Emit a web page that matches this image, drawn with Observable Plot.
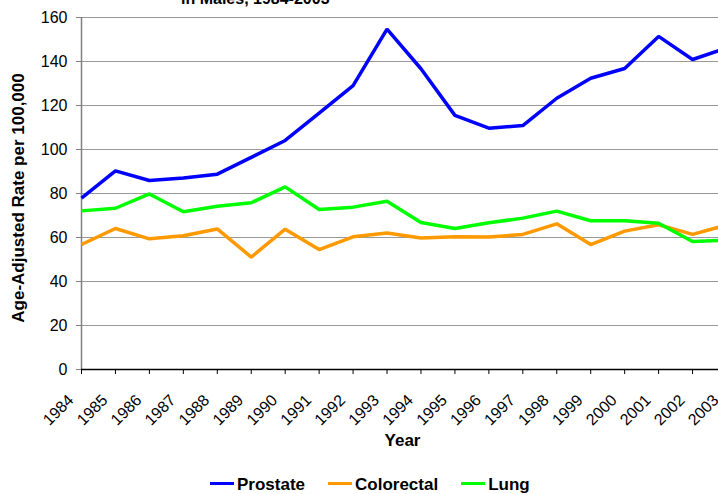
<!DOCTYPE html>
<html>
<head>
<meta charset="utf-8">
<script src="https://cdn.jsdelivr.net/npm/d3@7"></script>
<script src="https://cdn.jsdelivr.net/npm/@observablehq/plot@0.6"></script>
<style>
  body { margin: 0; background: #fff; font-family: "Liberation Sans", Arial, sans-serif; width: 718px; height: 494px; overflow: hidden; position: relative; }
  #chart { position: absolute; left: 0; top: 0; }
  #title { position: absolute; left: 181px; top: -10px; font-weight: bold; font-size: 16px; line-height: 18px; white-space: nowrap; color: #000; z-index: 2; }
  #legend { position: absolute; left: 210px; top: 475px; display: flex; font-weight: bold; font-size: 17px; line-height: 20px; color: #000; }
  .item { display: flex; align-items: center; margin-right: 23px; }
  .sw { width: 24px; height: 3px; margin-right: 3px; margin-top: -3px; }
</style>
</head>
<body>
<div id="chart"></div>
<div id="title">in Males, 1984-2003</div>
<div id="legend"></div>
<script>
const years = [1984, 1985, 1986, 1987, 1988, 1989, 1990, 1991, 1992, 1993, 1994, 1995, 1996, 1997, 1998, 1999, 2000, 2001, 2002, 2003];
const prostate = [77.9, 90.3, 85.9, 87.0, 88.8, 96.4, 104.1, 116.5, 129.0, 154.7, 136.7, 115.5, 109.7, 110.9, 123.3, 132.4, 136.8, 151.4, 140.9, 146.2];
const colorectal = [56.8, 64.1, 59.4, 60.8, 63.9, 51.1, 63.8, 54.5, 60.3, 62.0, 59.8, 60.3, 60.2, 61.4, 66.2, 56.8, 62.9, 65.8, 61.4, 65.7];
const lung = [72.1, 73.3, 79.8, 71.7, 74.2, 75.8, 83.0, 72.7, 73.8, 76.5, 66.8, 64.1, 66.7, 68.8, 72.0, 67.6, 67.6, 66.5, 58.2, 58.8];
const seriesNames = ["Prostate", "Colorectal", "Lung"];
const seriesColors = ["#0000FF", "#FF9900", "#00FF00"];
const yTicks = [0, 20, 40, 60, 80, 100, 120, 140, 160];
const yLabel = "Age-Adjusted Rate per 100,000";
const xLabel = "Year";

const seriesValues = [prostate, colorectal, lung];
const rows = seriesNames.flatMap((name, i) =>
  years.map((year, j) => ({ series: name, year, value: seriesValues[i][j] }))
);

const font = '"Liberation Sans", Arial, sans-serif';

const chart = Plot.plot({
  width: 718,
  height: 460,
  marginLeft: 81,
  marginRight: 0,
  marginTop: 17,
  marginBottom: 91,
  style: { fontFamily: font, fontSize: "16px", background: "white", color: "black" },
  x: { domain: [1984, 2003], range: [81, 726] },
  y: { domain: [0, 160] },
  color: { domain: seriesNames, range: seriesColors },
  marks: [
    Plot.gridY(yTicks, { stroke: "#999999", strokeOpacity: 1, strokeWidth: 1.2 }),
    Plot.ruleX([1984], { stroke: "#808080", strokeWidth: 1.5 }),
    Plot.axisY({ ticks: yTicks, tickSize: 5, tickPadding: 9, stroke: "#808080", fill: "black", label: null, fontSize: 16 }),
    Plot.line(rows, { x: "year", y: "value", z: "series", stroke: "series", strokeWidth: 3.5, strokeLinejoin: "miter", strokeLinecap: "butt" }),
    Plot.ruleY([0], { stroke: "black", strokeWidth: 1.5 }),
    Plot.axisX({ ticks: years, tickSize: 5, tickFormat: () => "", stroke: "black", label: null }),
    Plot.axisX({ ticks: years, tickSize: 0, tickRotate: -45, tickPadding: 28, dx: -10.5, tickFormat: d => String(d), fill: "black", label: null, fontSize: 16 }),
    Plot.text([yLabel], { text: d => d, frameAnchor: "left", textAnchor: "middle", rotate: -90, dx: -63, dy: 4.5, fontWeight: "bold", fontSize: 17, fill: "black" }),
    Plot.text([xLabel], { text: d => d, frameAnchor: "bottom", textAnchor: "middle", dx: 2.5, dy: 76, fontWeight: "bold", fontSize: 17, fill: "black" })
  ]
});
document.getElementById("chart").appendChild(chart);

const legend = document.getElementById("legend");
seriesNames.forEach((name, i) => {
  const item = document.createElement("div");
  item.className = "item";
  const sw = document.createElement("span");
  sw.className = "sw";
  sw.style.background = seriesColors[i];
  const label = document.createElement("span");
  label.textContent = name;
  item.appendChild(sw);
  item.appendChild(label);
  legend.appendChild(item);
});
</script>
</body>
</html>
